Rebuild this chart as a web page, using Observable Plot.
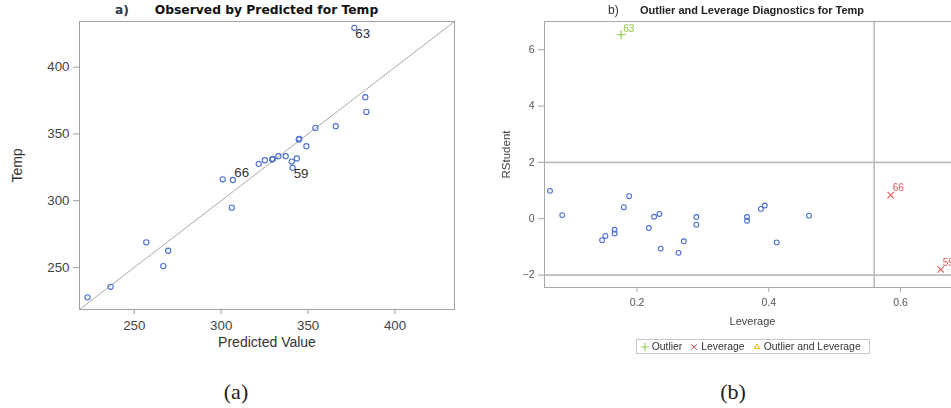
<!DOCTYPE html>
<html>
<head>
<meta charset="utf-8">
<script src="https://cdn.jsdelivr.net/npm/d3@7"></script>
<script src="https://cdn.jsdelivr.net/npm/@observablehq/plot@0.6"></script>
<style>
  html, body { margin: 0; padding: 0; background: #fff; }
  body { position: relative; width: 951px; height: 408px; overflow: hidden;
         font-family: "Liberation Sans", Arial, sans-serif; }
  .abs { position: absolute; }
  .panel svg { display: block; }
  .title { position: absolute; white-space: nowrap; font-weight: bold; color: #111; }
  .caption { position: absolute; font-family: "Liberation Serif", "DejaVu Serif", serif;
             font-size: 22px; line-height: 22px; color: #222; transform: translateX(-50%); }
  #legendB { position: absolute; border: 1px solid #c8c8c8; box-sizing: border-box;
             display: flex; align-items: center; font-size: 10.4px; color: #333; white-space: nowrap; }
  #legendB span.item { display: inline-flex; align-items: center; }
  #legendB svg { display: inline-block; }
</style>
</head>
<body>
<div id="panelA" class="abs panel" style="left:0;top:0;width:470px;height:360px"></div>
<div id="panelB" class="abs panel" style="left:470px;top:0;width:505px;height:360px;filter:blur(0.35px)"></div>
<div class="caption" style="left:236px;top:381px">(a)</div>
<div class="caption" style="left:733px;top:381px">(b)</div>

<script>
// ---- Panel (a): observed Temp against predicted value ----
const predicted = [376.6, 382.9, 383.5, 365.9, 354.2, 344.6, 344.9, 349.0, 337.1, 332.9,
                   329.3, 329.7, 325.1, 321.6, 343.5, 340.6, 341.1, 300.9, 306.7, 306.1,
                   256.9, 269.5, 266.7, 236.4, 223.1];
const observed  = [429.5, 377.5, 366.5, 355.8, 354.5, 345.8, 346.3, 340.8, 333.3, 333.3,
                   330.8, 331.3, 330.3, 327.6, 331.6, 329.3, 324.6, 316.0, 315.5, 294.8,
                   268.8, 262.5, 251.0, 235.5, 227.6];
const obsId     = ["63", "", "", "", "", "", "", "", "", "",
                   "", "", "", "", "", "", "59", "", "66", "",
                   "", "", "", "", ""];
const domainA = [218.5, 434.2];
const ticksA = [250, 300, 350, 400];

// ---- Panel (b): RStudent against leverage ----
const leverage = [0.068, 0.0865, 0.147, 0.152, 0.166, 0.166, 0.180, 0.188, 0.218, 0.226,
                  0.234, 0.236, 0.263, 0.271, 0.290, 0.290, 0.367, 0.367, 0.388, 0.394,
                  0.412, 0.461, 0.176, 0.585, 0.661];
const rstudent = [0.99, 0.13, -0.76, -0.61, -0.39, -0.52, 0.41, 0.80, -0.33, 0.07,
                  0.17, -1.06, -1.21, -0.80, 0.06, -0.21, 0.06, -0.07, 0.35, 0.47,
                  -0.84, 0.11, 6.53, 0.84, -1.80];
const diagType = ["", "", "", "", "", "", "", "", "", "",
                  "", "", "", "", "", "", "", "", "", "",
                  "", "", "Outlier", "Leverage", "Leverage"];
const diagId   = ["", "", "", "", "", "", "", "", "", "",
                  "", "", "", "", "", "", "", "", "", "",
                  "", "", "63", "66", "59"];
const rstudentCut = [-2, 2];
const leverageCut = 0.56;
const domainLev = [0.0596, 0.691];
const domainRS = [-2.44, 7.0];
const ticksLev = [0.2, 0.4, 0.6];
const ticksRS = [-2, 0, 2, 4, 6];
const legendCats = ["Outlier", "Leverage", "Outlier and Leverage"];
const legendSymbols = [d3.symbolPlus, d3.symbolTimes, d3.symbolTriangle2];
const legendColors = ["#8cc63f", "#e05a5a", "#f2b705"];

const blue = "#4a6fcc";

// Panel (a)
const rowsA = predicted.map((p, i) => ({pred: p, obs: observed[i], id: obsId[i]}));
const labelled = id => rowsA.filter(d => d.id === id);

const plotA = Plot.plot({
  width: 470, height: 360,
  marginLeft: 79, marginRight: 16, marginTop: 21, marginBottom: 51,
  x: {domain: domainA},
  y: {domain: domainA},
  style: {fontFamily: "Liberation Sans, Arial, sans-serif", fontSize: "13.3px", background: "#fff"},
  marks: [
    Plot.line(domainA, {x: d => d, y: d => d, stroke: "#aaa", strokeWidth: 1}),
    Plot.frame({stroke: "#a0a0a0"}),
    Plot.axisX(ticksA, {tickSize: 5, tickPadding: 6, stroke: "#a0a0a0", color: "#444", label: null}),
    Plot.axisY(ticksA, {tickSize: 6, tickPadding: 4, stroke: "#a0a0a0", color: "#444", label: null}),
    Plot.dot(rowsA, {x: "pred", y: "obs", r: 2.6, stroke: blue, strokeWidth: 1.1, fill: "none"}),
    Plot.text(labelled("63"), {x: "pred", y: "obs", text: "id", textAnchor: "start", dx: 1, dy: 6, fontSize: 13.3, fill: "#333"}),
    Plot.text(labelled("59"), {x: "pred", y: "obs", text: "id", textAnchor: "start", dx: 1, dy: 6, fontSize: 13.3, fill: "#333"}),
    Plot.text(labelled("66"), {x: "pred", y: "obs", text: "id", textAnchor: "start", dx: 1.5, dy: -7, fontSize: 13.3, fill: "#333"}),
    Plot.text(["Predicted Value"], {frameAnchor: "bottom", dy: 37, fontSize: 14, fill: "#333"}),
    Plot.text(["Temp"], {frameAnchor: "left", textAnchor: "middle", rotate: -90, dx: -62, fontSize: 14, fill: "#333"})
  ]
});
const panelA = document.getElementById("panelA");
panelA.appendChild(plotA);
{
  const t = document.createElement("div");
  t.className = "title";
  t.style.cssText = "left:266.5px;top:3px;transform:translateX(-50%);font-family:'DejaVu Sans',Verdana,sans-serif;font-size:12.3px;";
  t.textContent = "Observed by Predicted for Temp";
  panelA.appendChild(t);
  const n = document.createElement("div");
  n.className = "title";
  n.style.cssText = "left:115px;top:3px;font-family:'DejaVu Sans',Verdana,sans-serif;font-size:12.3px;color:#2a3550;";
  n.textContent = "a)";
  panelA.appendChild(n);
}

// Panel (b)
const rowsB = leverage.map((l, i) => ({lev: l, rs: rstudent[i], type: diagType[i], id: diagId[i]}));
const normal = rowsB.filter(d => d.type === "");
const outl = rowsB.filter(d => d.type === "Outlier");
const lever = rowsB.filter(d => d.type === "Leverage");

const plotB = Plot.plot({
  width: 505, height: 360,
  marginLeft: 74, marginRight: 15, marginTop: 21, marginBottom: 73,
  x: {domain: domainLev},
  y: {domain: domainRS},
  style: {fontFamily: "Liberation Sans, Arial, sans-serif", fontSize: "10.5px", background: "#fff"},
  marks: [
    Plot.ruleY(rstudentCut, {stroke: "#bdbdbd", strokeWidth: 1.6}),
    Plot.ruleX([leverageCut], {stroke: "#bdbdbd", strokeWidth: 1.6}),
    Plot.frame({stroke: "#a8a8a8"}),
    Plot.axisX(ticksLev, {tickSize: 5, tickPadding: 6, stroke: "#a8a8a8", color: "#555", label: null}),
    Plot.axisY(ticksRS, {tickSize: 6, tickPadding: 4, stroke: "#a8a8a8", color: "#555", label: null}),
    Plot.dot(normal, {x: "lev", y: "rs", r: 2.4, stroke: blue, strokeWidth: 1.1, fill: "none"}),
    Plot.dot(outl, {x: "lev", y: "rs", symbol: "plus", r: 3, stroke: legendColors[0], strokeWidth: 1.1, fill: "none"}),
    Plot.dot(lever, {x: "lev", y: "rs", symbol: "times", r: 3, stroke: legendColors[1], strokeWidth: 1.1, fill: "none"}),
    Plot.text(outl, {x: "lev", y: "rs", text: "id", textAnchor: "start", dx: 2, dy: -6, fontSize: 10, fill: legendColors[0]}),
    Plot.text(lever, {x: "lev", y: "rs", text: "id", textAnchor: "start", dx: 2, dy: -7, fontSize: 10, fill: legendColors[1]}),
    Plot.text(["Leverage"], {frameAnchor: "bottom", dy: 37, fontSize: 11, fill: "#444"}),
    Plot.text(["RStudent"], {frameAnchor: "left", textAnchor: "middle", rotate: -90, dx: -38, fontSize: 11.5, fill: "#444"})
  ]
});
const panelB = document.getElementById("panelB");
panelB.appendChild(plotB);
{
  const t = document.createElement("div");
  t.className = "title";
  t.style.cssText = "left:282px;top:4px;transform:translateX(-50%);font-family:'Liberation Sans',Arial,sans-serif;font-size:11px;color:#222;";
  t.textContent = "Outlier and Leverage Diagnostics for Temp";
  panelB.appendChild(t);
  const n = document.createElement("div");
  n.className = "title";
  n.style.cssText = "left:138px;top:3px;font-family:'Liberation Sans',Arial,sans-serif;font-size:12px;font-weight:normal;color:#333;";
  n.textContent = "b)";
  panelB.appendChild(n);

  // legend below the x-axis label
  const lg = document.createElement("div");
  lg.id = "legendB";
  lg.style.cssText = "left:165.7px;top:339px;width:234.5px;height:15px;padding-left:4px;";
  legendCats.forEach((c, i) => {
    const item = document.createElement("span");
    item.className = "item";
    item.style.marginRight = "8px";
    const s = d3.create("svg").attr("width", 8).attr("height", 8).style("margin-right", "3px");
    s.append("path")
      .attr("transform", "translate(4,4)")
      .attr("d", d3.symbol(legendSymbols[i], 22)())
      .attr("fill", "none")
      .attr("stroke", legendColors[i])
      .attr("stroke-width", 1);
    item.appendChild(s.node());
    item.appendChild(document.createTextNode(c));
    lg.appendChild(item);
  });
  panelB.appendChild(lg);
}
</script>
</body>
</html>
